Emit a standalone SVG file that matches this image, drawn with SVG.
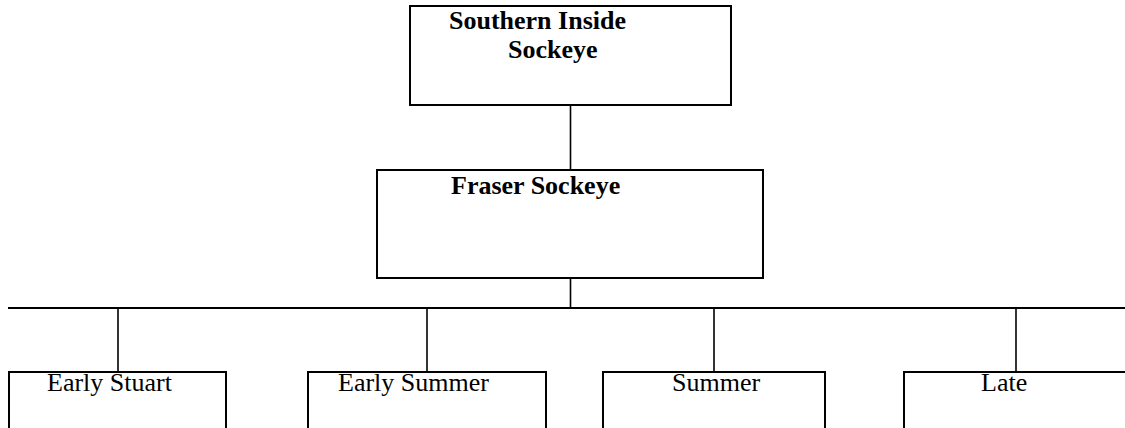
<svg xmlns="http://www.w3.org/2000/svg" width="1125" height="428" viewBox="0 0 1125 428">
<style>
.box{fill:#fff;stroke:#000;stroke-width:2}
.ln{stroke:#000;stroke-width:1.6;fill:none}
.b{font-family:"Liberation Serif","Times New Roman",serif;font-weight:bold;font-size:26px;fill:#000}
.r{font-family:"Liberation Serif","Times New Roman",serif;font-size:26px;fill:#000}
</style>
<rect width="1125" height="428" fill="#fff"/>
<g id="connectors">
<line class="ln" x1="570.5" y1="105" x2="570.5" y2="170"/>
<line class="ln" x1="570.5" y1="278" x2="570.5" y2="308"/>
<line class="ln" x1="8" y1="308" x2="1125" y2="308" style="stroke-width:2"/>
<line class="ln" x1="118" y1="308" x2="118" y2="372"/>
<line class="ln" x1="427" y1="308" x2="427" y2="372"/>
<line class="ln" x1="714" y1="308" x2="714" y2="372"/>
<line class="ln" x1="1016" y1="308" x2="1016" y2="372"/>
</g>
<g id="southern-inside">
<rect class="box" x="410" y="6" width="321" height="99"/>
<text class="b" x="449" y="29">Southern Inside</text>
<text class="b" x="508" y="58">Sockeye</text>
</g>
<g id="fraser">
<rect class="box" x="377" y="170" width="386" height="108"/>
<text class="b" x="451" y="194">Fraser Sockeye</text>
</g>
<g id="early-stuart">
<rect class="box" x="9" y="372" width="217" height="70"/>
<text class="r" x="47" y="391">Early Stuart</text>
</g>
<g id="early-summer">
<rect class="box" x="308" y="372" width="238" height="70"/>
<text class="r" x="338" y="391">Early Summer</text>
</g>
<g id="summer">
<rect class="box" x="603" y="372" width="222" height="70"/>
<text class="r" x="672" y="391">Summer</text>
</g>
<g id="late">
<rect class="box" x="904" y="372" width="240" height="70"/>
<text class="r" x="981" y="391">Late</text>
</g>
</svg>
